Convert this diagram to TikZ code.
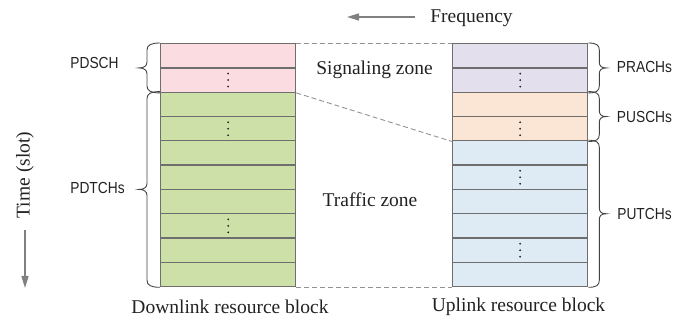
\documentclass[tikz,border=0pt]{standalone}
\usepackage{fontspec}
\setmainfont{Liberation Serif}
\newfontfamily\narrowsans[FakeStretch=0.86]{Liberation Sans}
\usetikzlibrary{calc,arrows.meta}
\definecolor{cpink}{HTML}{FBDCE1}
\definecolor{cgreen}{HTML}{CCE0A8}
\definecolor{cpurple}{HTML}{E4DFEC}
\definecolor{corange}{HTML}{FBE6D6}
\definecolor{cblue}{HTML}{DEEAF4}
\definecolor{cedge}{HTML}{6E6E6E}
\definecolor{ctext}{HTML}{222222}
\newcommand{\bracewest}[2]{%
  \coordinate (bT) at (#1); \coordinate (bB) at (#2);
  \coordinate (bM) at ($(bT)!0.5!(bB)$);
  \draw[brc] (bT) .. controls +(-9,0) and +(0,-5) .. ($(bT)+(-13,7)$) -- ($(bM)+(-13,-6)$)
    .. controls +(0,4) and +(5,0) .. ($(bM)+(-21,0)$)
    .. controls +(5,0) and +(0,-4) .. ($(bM)+(-13,6)$) -- ($(bB)+(-13,-7)$)
    .. controls +(0,5) and +(-9,0) .. (bB);}
\newcommand{\braceeast}[2]{%
  \coordinate (bT) at (#1); \coordinate (bB) at (#2);
  \coordinate (bM) at ($(bT)!0.5!(bB)$);
  \draw[brc] (bT) .. controls +(8,0) and +(0,-5) .. ($(bT)+(11,7)$) -- ($(bM)+(11,-6)$)
    .. controls +(0,4) and +(-5,0) .. ($(bM)+(18,0)$)
    .. controls +(-5,0) and +(0,-4) .. ($(bM)+(11,6)$) -- ($(bB)+(11,-7)$)
    .. controls +(0,5) and +(8,0) .. (bB);}
\newcommand{\celldots}[1]{%
  \fill[ctext] ($(#1)+(0,-6.5)$) circle (1);
  \fill[ctext] (#1) circle (1);
  \fill[ctext] ($(#1)+(0,6.5)$) circle (1);}
\begin{document}
\begin{tikzpicture}[x=1pt,y=-1pt,
  cell/.style={draw=cedge, line width=1.3pt, minimum width=135pt, minimum height=24.3pt,
    inner sep=0pt, anchor=north west},
  serif/.style={text=ctext, font=\fontsize{19.5}{22}\selectfont, inner sep=0pt},
  sans/.style={text=ctext, font=\narrowsans\fontsize{16}{18}\selectfont, inner sep=0pt},
  brc/.style={draw=ctext!85, line width=0.9pt},
  dsh/.style={draw=gray!85, line width=0.9pt, dash pattern=on 5pt off 3pt},
  arr/.style={draw=gray, line width=1.5pt, -{Triangle[length=12pt,width=7pt]}}]
\useasboundingbox (0,0) rectangle (691,320);
% left block
\foreach \i in {1,2} \node[cell, fill=cpink] (L\i) at (160,{43+(\i-1)*24.3}) {};
\foreach \i in {3,...,10} \node[cell, fill=cgreen] (L\i) at (160,{43+(\i-1)*24.3}) {};
% right block
\foreach \i in {1,2} \node[cell, fill=cpurple] (R\i) at (452,{43+(\i-1)*24.3}) {};
\foreach \i in {3,4} \node[cell, fill=corange] (R\i) at (452,{43+(\i-1)*24.3}) {};
\foreach \i in {5,...,10} \node[cell, fill=cblue] (R\i) at (452,{43+(\i-1)*24.3}) {};
% dots
\celldots{L2}\celldots{L4}\celldots{L8}
\celldots{R2}\celldots{R4}\celldots{R6}\celldots{R9}
% dashed zone lines
\draw[dsh] (L1.north east) -- (R1.north west);
\draw[dsh] (L2.south east) -- (R4.south west);
\draw[dsh] (L10.south east) -- (R10.south west);
% braces
\bracewest{L1.north west}{L2.south west}
\bracewest{L3.north west}{L10.south west}
\braceeast{R1.north east}{R2.south east}
\braceeast{R3.north east}{R4.south east}
\braceeast{R5.north east}{R10.south east}
% channel labels
\node[sans] (pdsch) at (94.5,63) {PDSCH};
\node[sans] (pdtch) at (97.5,188) {PDTCHs};
\node[sans] (prach) at (644.5,67) {PRACHs};
\node[sans] (pusch) at (644.5,117) {PUSCHs};
\node[sans] (putch) at (644.5,214) {PUTCHs};
% zone labels
\node[serif] (sig) at (374.5,69.5) {Signaling zone};
\node[serif] (trf) at (370,200) {Traffic zone};
\node[serif] (dl) at (230,307) {Downlink resource block};
\node[serif] (ul) at (518.5,307) {Uplink resource block};
% axes
\node[serif] (freq) at (471.5,18) {Frequency};
\coordinate (fa) at (415,17);
\coordinate (fb) at (347,17);
\draw[arr] (fa) -- (fb);
\node[serif, rotate=90] (time) at (25,175) {Time (slot)};
\coordinate (ta) at (25,230);
\coordinate (tb) at (25,288);
\draw[arr] (ta) -- (tb);
\end{tikzpicture}
\end{document}
